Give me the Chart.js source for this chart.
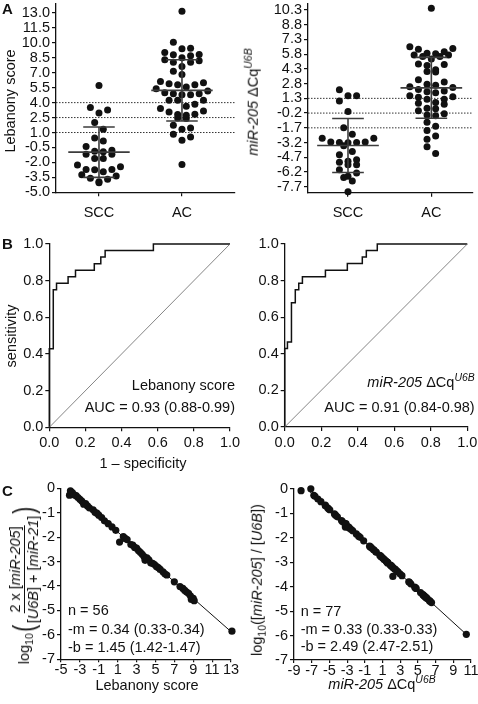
<!DOCTYPE html>
<html>
<head>
<meta charset="utf-8">
<script src="https://cdn.jsdelivr.net/npm/chart.js@4.4.1/dist/chart.umd.min.js"></script>
<style>
  html, body { margin: 0; padding: 0; background: #fff; }
  body { width: 478px; height: 704px; position: relative; overflow: hidden;
         font-family: "Liberation Sans", Arial, sans-serif; color: #111; }
  canvas.panel { position: absolute; }
  .t { position: absolute; font-size: 14.5px; white-space: nowrap; line-height: 1; }
  .ctr { transform: translate(-50%, -50%); }
  .rot { transform: translate(-50%, -50%) rotate(-90deg); }
  .rt { transform: translate(-100%, -50%); }
  .lt { transform: translate(0, -50%); }
  .letter { font-weight: bold; font-size: 15px; }
  sup { font-size: 72%; vertical-align: 0.55em; line-height: 0; }
  sub { font-size: 72%; vertical-align: -0.35em; line-height: 0; }
  .mathrow { display: inline-flex; align-items: center; }
  .frac { display: inline-flex; flex-direction: column; align-items: center; }
  .num { border-bottom: 1px solid #111; padding: 0 1px 1px; }
  .den { padding-top: 1px; }
  .par { font-size: 30px; display: inline-block; transform: scaleX(0.7); }
</style>
</head>
<body>

<canvas class="panel" id="a1" width="240" height="230" style="left:0px;top:0px"></canvas>
<canvas class="panel" id="a2" width="238" height="230" style="left:240px;top:0px"></canvas>
<canvas class="panel" id="b1" width="245" height="230" style="left:0px;top:228px"></canvas>
<canvas class="panel" id="b2" width="238" height="230" style="left:240px;top:228px"></canvas>
<canvas class="panel" id="c1" width="245" height="205" style="left:0px;top:475px"></canvas>
<canvas class="panel" id="c2" width="238" height="205" style="left:240px;top:475px"></canvas>

<!-- panel letters -->
<div class="t ctr letter" style="left:7.5px;top:8.3px">A</div>
<div class="t ctr letter" style="left:7.5px;top:243.3px">B</div>
<div class="t ctr letter" style="left:7.5px;top:490px">C</div>

<!-- A titles -->
<div class="t rot" style="left:10px;top:101px">Lebanony score</div>
<div class="t rot" style="left:253px;top:102px"><i>miR-205</i> ΔCq<sup><i>U6B</i></sup></div>

<!-- B titles and notes -->
<div class="t rot" style="left:11px;top:336px">sensitivity</div>
<div class="t ctr" style="left:143px;top:463px">1 – specificity</div>
<div class="t rt" style="left:235px;top:385px">Lebanony score</div>
<div class="t rt" style="left:235px;top:406.7px">AUC = 0.93 (0.88-0.99)</div>
<div class="t rt" style="left:474.7px;top:382px"><i>miR-205</i> ΔCq<sup><i>U6B</i></sup></div>
<div class="t rt" style="left:474.7px;top:407px">AUC = 0.91 (0.84-0.98)</div>

<!-- C titles and notes -->
<div class="t rot" style="left:24px;top:585px">
  <span class="mathrow"><span>log<sub>10</sub></span><span class="par">(</span><span class="frac"><span class="num">2 x [<i>miR-205</i>]</span><span class="den">[<i>U6B</i>] + [<i>miR-21</i>]</span></span><span class="par">)</span></span>
</div>
<div class="t rot" style="left:257px;top:580px">log<sub>10</sub>([<i>miR-205</i>] / [<i>U6B</i>])</div>
<div class="t ctr" style="left:147px;top:685px">Lebanony score</div>
<div class="t ctr" style="left:382px;top:684px"><i>miR-205</i> ΔCq<sup><i>U6B</i></sup></div>
<div class="t lt" style="left:68px;top:610px">n = 56</div>
<div class="t lt" style="left:68px;top:629px">-m = 0.34 (0.33-0.34)</div>
<div class="t lt" style="left:68px;top:646.7px">-b = 1.45 (1.42-1.47)</div>
<div class="t lt" style="left:300.7px;top:611px">n = 77</div>
<div class="t lt" style="left:300.7px;top:629px">-m = 0.33 (0.33-0.33)</div>
<div class="t lt" style="left:300.7px;top:646px">-b = 2.49 (2.47-2.51)</div>

<script>
// ---------- A: dot plots ----------
const groups = ["SCC", "AC"];

const lebanonySCC = [5.73, 3.26, 2.96, 3.50, 2.00, 1.33, 0.16, 0.46, -0.40, -0.77, -0.94, -1.17, -1.60, -1.60,
    -1.17, -0.87, -2.27, -2.70, -2.74, -2.94, -2.70, -2.44, -3.37, -3.70, -4.04, -3.94, -3.60, -3.24];
const lebanonyAC = [13.16, 10.06, 9.40, 9.46, 9.03, 8.83, 8.50, 8.20, 8.06, 8.06, 8.30, 8.70, 8.80, 7.63, 7.16,
    6.83, 6.13, 5.90, 5.80, 5.80, 6.00, 5.56, 5.40, 5.16, 4.90, 4.80, 4.80, 4.90, 5.00, 4.23, 4.23, 4.23, 3.83,
    3.63, 3.40, 3.06, 3.16, 2.80, 2.83, 2.46, 2.40, 2.73, 1.73, 1.46, 1.33, 0.56, 0.83, 0.23, -2.20];
const lebanonyMean = [-0.97, 5.23];
const lebanonySD = [2.53, 3.07];
const lebanonyCutoffs = [4.0, 2.5, 1.0];
const lebanonyTicks = [-5, -3.5, -2, -0.5, 1, 2.5, 4, 5.5, 7, 8.5, 10, 11.5, 13];

const mirSCC = [2.17, 1.57, 1.57, 1.04, -0.03, -1.70, -2.36, -2.76, -3.13, -3.23, -3.53, -3.20, -3.13, -2.76,
    -3.20, -4.10, -4.43, -5.10, -4.96, -5.20, -5.46, -5.46, -5.96, -6.30, -6.63, -6.76, -7.10, -8.20];
const mirAC = [10.47, 6.37, 6.30, 6.54, 5.90, 5.70, 5.57, 5.30, 5.57, 5.70, 5.84, 6.04, 4.80, 4.64, 4.74, 4.04,
    3.97, 4.20, 2.97, 3.20, 2.47, 2.64, 2.74, 2.20, 2.40, 2.04, 1.87, 1.97, 1.40, 1.20, 1.57, 1.20, 1.47, 0.80,
    0.70, 0.87, 0.30, 0.04, 0.24, -0.40, -0.46, -0.26, -1.53, -1.13, -1.96, -2.53, -2.86, -3.63, -4.30];
const mirMean = [-3.50, 2.37];
const mirSD = [2.75, 3.10];
const mirCutoffs = [1.3, -0.2, -1.7];
const mirTicks = [-7.7, -6.2, -4.7, -3.2, -1.7, -0.2, 1.3, 2.8, 4.3, 5.8, 7.3, 8.8, 10.3];

// ---------- B: ROC curves (corner points of the step curve) ----------
const rocTicks = [0, 0.2, 0.4, 0.6, 0.8, 1.0];
const rocLebFpr = [0, 0, 0.022, 0.040, 0.104, 0.145, 0.249, 0.285, 0.309, 0.576, 1.0];
const rocLebTpr = [0, 0.4286, 0.75, 0.7857, 0.8214, 0.8571, 0.8929, 0.9286, 0.9643, 1.0, 1.0];
const rocMirFpr = [0, 0, 0.015, 0.037, 0.058, 0.077, 0.097, 0.223, 0.343, 0.425, 0.447, 0.507, 1.0];
const rocMirTpr = [0, 0.4286, 0.4643, 0.6786, 0.75, 0.7857, 0.8214, 0.8571, 0.8929, 0.9286, 0.9643, 1.0, 1.0];
const diagX = [0, 1];
const diagY = [0, 1];

// ---------- C: linearity ----------
const cYTicks = [0, -1, -2, -3, -4, -5, -6, -7];
const cLebXTicks = [-5, -3, -1, 1, 3, 5, 7, 9, 11, 13];
const cMirXTicks = [-9, -7, -5, -3, -1, 1, 3, 5, 7, 9, 11];

const cLebX = [-4.0, -4.1, -3.8, -3.6, -3.4, -3.2, -3.0, -2.8, -2.6, -2.4, -2.2, -2.0, -1.6, -1.4, -1.2, -1.0,
    -0.7, -0.4, 0.0, 0.4, 0.8, 1.6, 1.8, 1.2, 2.0, 2.4, 2.6, 2.8, 3.0, 3.2, 3.4, 3.6, 3.8, 3.9, 4.1, 4.3, 4.5,
    4.7, 4.9, 5.1, 5.3, 5.5, 5.8, 6.0, 6.2, 7.0, 7.6, 7.9, 8.1, 8.3, 8.5, 8.7, 8.8, 9.0, 9.1, 13.1];
const cLebY = [-0.10, -0.28, -0.18, -0.27, -0.30, -0.38, -0.45, -0.52, -0.65, -0.63, -0.72, -0.80, -0.88, -0.98,
    -1.02, -1.10, -1.20, -1.33, -1.45, -1.58, -1.72, -1.98, -2.05, -2.20, -2.10, -2.30, -2.33, -2.42, -2.45,
    -2.55, -2.62, -2.70, -2.80, -2.95, -2.85, -2.93, -3.05, -3.07, -3.12, -3.20, -3.25, -3.32, -3.42, -3.50,
    -3.55, -3.83, -4.02, -4.10, -4.18, -4.25, -4.30, -4.40, -4.55, -4.50, -4.60, -5.85];
const cLebFitX = [-4.2, 13.1];
const cLebFitY = [-0.02, -5.90];

const cMirX = [-8.20, -7.10, -6.76, -6.63, -6.30, -5.96, -5.46, -5.46, -5.20, -5.10, -4.96, -4.43, -4.30, -4.10,
    -3.63, -3.53, -3.23, -3.20, -3.20, -3.13, -3.13, -2.86, -2.76, -2.76, -2.53, -2.36, -1.96, -1.70, -1.53,
    -1.13, -0.46, -0.40, -0.26, -0.03, 0.04, 0.24, 0.30, 0.70, 0.80, 0.87, 1.04, 1.20, 1.20, 1.40, 1.47, 1.57,
    1.57, 1.57, 1.87, 1.97, 2.04, 2.17, 2.20, 2.40, 2.47, 2.64, 2.74, 2.97, 3.20, 3.97, 4.04, 4.20, 4.64, 4.74,
    4.80, 5.30, 5.57, 5.57, 5.70, 5.70, 5.84, 5.90, 6.04, 6.30, 6.37, 6.54, 10.47];
const cMirY = [-0.07, 0.01, -0.26, -0.30, -0.41, -0.52, -0.69, -0.66, -0.77, -0.81, -0.85, -1.02, -1.07, -1.14,
    -1.29, -1.33, -1.43, -1.56, -1.44, -1.46, -1.42, -1.55, -1.58, -1.60, -1.66, -1.71, -1.84, -1.93, -1.98,
    -2.12, -2.34, -2.36, -2.40, -2.48, -2.50, -2.57, -2.59, -2.72, -2.75, -2.78, -2.83, -2.89, -2.89, -2.95,
    -2.98, -3.01, -3.00, -3.03, -3.11, -3.14, -3.16, -3.58, -3.22, -3.28, -3.30, -3.36, -3.39, -3.47, -3.55,
    -3.80, -3.82, -3.88, -4.02, -4.05, -4.07, -4.24, -4.33, -4.32, -4.37, -4.37, -4.42, -4.44, -4.48, -4.57,
    -4.59, -4.65, -5.95];
const cMirFitX = [-7.3, 10.5];
const cMirFitY = [-0.08, -5.96];

// ---------- helpers ----------
const INK = "#111";
const FONT = { family: '"Liberation Sans", Arial, sans-serif', size: 14.5 };
Chart.defaults.font.family = FONT.family;
Chart.defaults.color = INK;

function pairs(xs, ys) {
    return xs.map((x, i) => ({ x: x, y: ys[i] }));
}

function yAxis(min, max, ticks, fmt, width) {
    return {
        type: "linear", min: min, max: max, bounds: "data",
        afterBuildTicks: s => { s.ticks = ticks.map(v => ({ value: v })); },
        afterFit: s => { s.width = width; s.paddingTop = 0; s.paddingBottom = 0; },
        ticks: { callback: fmt, padding: 2, color: INK, font: FONT, autoSkip: false },
        grid: { drawOnChartArea: false, drawTicks: true, tickLength: 4, color: INK, lineWidth: 1.2 },
        border: { display: true, color: INK, width: 1.3 },
    };
}

function xAxis(min, max, ticks, fmt, height, pad, tl) {
    return {
        type: "linear", min: min, max: max, bounds: "data",
        afterBuildTicks: s => { s.ticks = ticks.map(v => ({ value: v })); },
        afterFit: s => { s.height = height; s.paddingLeft = 0; s.paddingRight = 0; },
        ticks: { callback: fmt, padding: pad, color: INK, font: FONT, autoSkip: false, maxRotation: 0, minRotation: 0 },
        grid: { drawOnChartArea: false, drawTicks: true, tickLength: tl, color: INK, lineWidth: 1.2 },
        border: { display: true, color: INK, width: 1.3 },
    };
}

function baseOptions(pad, scales, extra) {
    return {
        responsive: false,
        animation: false,
        layout: { padding: { left: 0, top: pad.t, right: pad.r, bottom: 0 } },
        plugins: Object.assign({ legend: { display: false }, tooltip: { enabled: false } }, extra || {}),
        scales: scales,
    };
}

/* ============ cut-offs, mean and SD for dot plots ============ */
const dotStats = {
    id: "dotStats",
    beforeDatasetsDraw(chart, args, opts) {
        if (!opts.cutoffs) return;
        const { ctx, chartArea, scales } = chart;
        ctx.save();
        ctx.strokeStyle = "#333";
        ctx.lineWidth = 1;
        ctx.setLineDash([1.5, 1.5]);
        opts.cutoffs.forEach(v => {
            const py = scales.y.getPixelForValue(v);
            ctx.beginPath();
            ctx.moveTo(chartArea.left, py);
            ctx.lineTo(chartArea.right, py);
            ctx.stroke();
        });
        ctx.restore();
    },
    afterDatasetsDraw(chart, args, opts) {
        if (!opts.means) return;
        const { ctx, scales } = chart;
        const x = scales.x, y = scales.y;
        ctx.save();
        ctx.strokeStyle = "#3c3c3c";
        ctx.lineWidth = 1.6;
        opts.means.forEach((m, i) => {
            const c = i + 1, sd = opts.sds[i];
            const cx = x.getPixelForValue(c);
            const half = x.getPixelForValue(c + 0.37) - cx;
            const cap = x.getPixelForValue(c + 0.19) - cx;
            const py = y.getPixelForValue(m);
            const hi = y.getPixelForValue(m + sd);
            const lo = y.getPixelForValue(m - sd);
            ctx.beginPath();
            ctx.moveTo(cx - half, py); ctx.lineTo(cx + half, py);
            ctx.moveTo(cx - cap, hi); ctx.lineTo(cx + cap, hi);
            ctx.moveTo(cx - cap, lo); ctx.lineTo(cx + cap, lo);
            ctx.moveTo(cx, hi); ctx.lineTo(cx, lo);
            ctx.stroke();
        });
        ctx.restore();
    },
};

// scatter dot plot layout: points that share a row are spread side by side,
// highest values go to the outside; a row is nudged sideways if it would hit the row above
function swarm(chart, values, center, rowH, gap, minDist) {
    const xs = chart.scales.x, ys = chart.scales.y;
    const pxPerCat = xs.getPixelForValue(center + 1) - xs.getPixelForValue(center);
    const order = values.map((v, i) => i).sort((a, b) => values[b] - values[a]);
    const py = values.map(v => ys.getPixelForValue(v));
    const rows = [];
    let row = null, rowTop = 0;
    order.forEach(i => {
        if (!row || py[i] - rowTop >= rowH) {
            row = [];
            rows.push(row);
            rowTop = py[i];
        }
        row.push(i);
    });
    const offs = new Array(values.length).fill(0);
    const placed = [];
    rows.forEach(r => {
        const n = r.length;
        const slots = [];
        for (let j = 0; j < n; j++) slots.push((j - (n - 1) / 2) * gap);
        const seq = [];
        let lo = 0, hi = n - 1, left = true;
        while (lo <= hi) {
            seq.push(left ? slots[lo++] : slots[hi--]);
            left = !left;
        }
        const shifts = [0, gap / 2, -gap / 2, gap, -gap];
        let shift = 0;
        for (const s of shifts) {
            const ok = r.every((idx, k) =>
                placed.every(p => Math.hypot(p[0] - (seq[k] + s), p[1] - py[idx]) >= minDist));
            if (ok) { shift = s; break; }
        }
        r.forEach((idx, k) => {
            offs[idx] = seq[k] + shift;
            placed.push([offs[idx], py[idx]]);
        });
    });
    return values.map((v, i) => ({ x: center + offs[i] / pxPerCat, y: v }));
}

function dotChart(id, pad, yMin, yMax, xMin, xMax, ticks, sets, means, sds, cutoffs) {
    const chart = new Chart(document.getElementById(id), {
        type: "scatter",
        data: {
            datasets: sets.map((vals, i) => ({
                data: vals.map(v => ({ x: i + 1, y: v })),
                pointRadius: 3.5,
                pointBackgroundColor: INK,
                pointBorderWidth: 0,
                clip: false,
            })),
        },
        options: baseOptions(pad, {
            x: xAxis(xMin, xMax, [1, 2], (v, i) => groups[i], pad.b, 8, 4),
            y: yAxis(yMin, yMax, ticks, v => v.toFixed(1), pad.l),
        }, { dotStats: { means: means, sds: sds, cutoffs: cutoffs } }),
        plugins: [dotStats],
    });
    chart.data.datasets.forEach((ds, i) => { ds.data = swarm(chart, sets[i], i + 1, 7, 8.6, 7); });
    chart.update("none");
    return chart;
}

function rocChart(id, pad, fpr, tpr) {
    return new Chart(document.getElementById(id), {
        type: "scatter",
        data: {
            datasets: [
                {
                    data: pairs(diagX, diagY), showLine: true, borderColor: "#666", borderWidth: 0.8,
                    pointRadius: 0, clip: false,
                },
                {
                    data: pairs(fpr, tpr), showLine: true, stepped: "before", borderColor: INK, borderWidth: 1.5,
                    pointRadius: 0, clip: false,
                },
            ],
        },
        options: baseOptions(pad, {
            x: xAxis(0, 1, rocTicks, v => v.toFixed(1), pad.b, 3, 4),
            y: yAxis(0, 1, rocTicks, v => v.toFixed(1), pad.l),
        }),
    });
}

function linChart(id, pad, xMin, xMax, xTicks, px, py, fx, fy) {
    return new Chart(document.getElementById(id), {
        type: "scatter",
        data: {
            datasets: [
                {
                    data: pairs(fx, fy), showLine: true, borderColor: INK, borderWidth: 1,
                    pointRadius: 0, clip: false,
                },
                {
                    data: pairs(px, py), pointRadius: 3.6, pointBackgroundColor: INK, pointBorderWidth: 0,
                    clip: false,
                },
            ],
        },
        options: baseOptions(pad, {
            x: xAxis(xMin, xMax, xTicks, v => String(v), pad.b, -1, 3),
            y: yAxis(-7, 0, cYTicks, v => String(v), pad.l),
        }),
    });
}

/* ============ A ============ */
dotChart("a1", { l: 56, t: 3.3, r: 5, b: 37.7 }, -5, 13.9, 0.482, 2.639, lebanonyTicks,
    [lebanonySCC, lebanonyAC], lebanonyMean, lebanonySD, lebanonyCutoffs);
dotChart("a2", { l: 68, t: 0.7, r: 5, b: 37.3 }, -8.3, 10.9, 0.52, 2.5, mirTicks,
    [mirSCC, mirAC], mirMean, mirSD, mirCutoffs);

/* ============ B ============ */
rocChart("b1", { l: 49.3, t: 16, r: 15, b: 30.7 }, rocLebFpr, rocLebTpr);
rocChart("b2", { l: 44.7, t: 16, r: 10.7, b: 31 }, rocMirFpr, rocMirTpr);

/* ============ C ============ */
linChart("c1", { l: 61, t: 13.3, r: 14, b: 20.7 }, -5, 13, cLebXTicks, cLebX, cLebY, cLebFitX, cLebFitY);
linChart("c2", { l: 54, t: 14, r: 7, b: 20 }, -9, 11, cMirXTicks, cMirX, cMirY, cMirFitX, cMirFitY);
</script>
</body>
</html>
